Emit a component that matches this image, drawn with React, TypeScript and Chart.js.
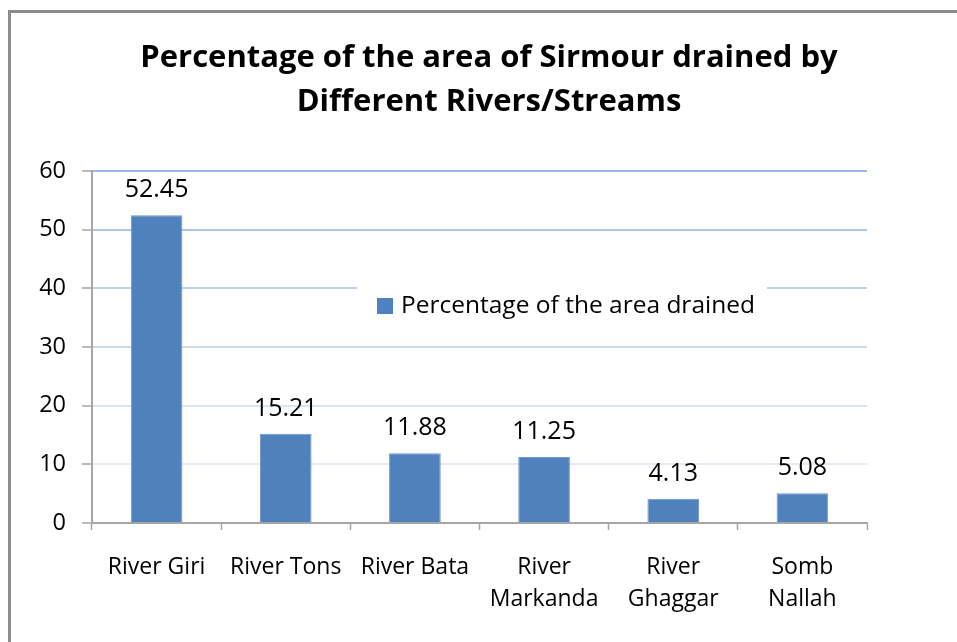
import React, { useEffect, useRef } from "react";
import { Chart, registerables } from "chart.js";

Chart.register(...registerables);

const titleLines = ["Percentage of the area of Sirmour drained by", "Different Rivers/Streams"];
const categories: (string | string[])[] = [
  "River Giri",
  "River Tons",
  "River Bata",
  ["River", "Markanda"],
  ["River", "Ghaggar"],
  ["Somb", "Nallah"],
];
const seriesLabel = "Percentage of the area drained";
const values = [52.45, 15.21, 11.88, 11.25, 4.13, 5.08];
const yMin = 0;
const yMax = 60;
const yStep = 10;

const FONT = "'Open Sans', sans-serif";
const BAR = "#4F81BD";
const AXIS = "#A6A6A6";
const gridColors = ["#A6A6A6", "#E4EAF6", "#D9E3F3", "#CCDAF0", "#BFD1EC", "#ADC5E9", "#9BBAE5"];

const framePlugin = {
  id: "frame",
  beforeDraw(chart: any) {
    const ctx = chart.ctx;
    ctx.save();
    ctx.fillStyle = "#ffffff";
    ctx.fillRect(0, 0, chart.width, chart.height);
    ctx.fillStyle = "#8C8C8C";
    ctx.fillRect(8, 10, 3, chart.height - 10);
    ctx.fillRect(8, 10, chart.width - 8, 3);
    ctx.restore();
  },
};

const titlePlugin = {
  id: "customTitle",
  afterDraw(chart: any) {
    const ctx = chart.ctx;
    ctx.save();
    ctx.fillStyle = "#000";
    ctx.font = `bold 31px ${FONT}`;
    ctx.textAlign = "center";
    ctx.textBaseline = "middle";
    titleLines.forEach((line, i) => ctx.fillText(line, 489, 58 + i * 44));
    ctx.restore();
  },
};

const valueLabelPlugin = {
  id: "valueLabels",
  afterDatasetsDraw(chart: any) {
    const ctx = chart.ctx;
    const meta = chart.getDatasetMeta(0);
    ctx.save();
    ctx.fillStyle = "#000";
    ctx.font = `25px ${FONT}`;
    ctx.textAlign = "center";
    ctx.textBaseline = "alphabetic";
    meta.data.forEach((bar: any, i: number) => {
      ctx.fillText(values[i].toFixed(2), bar.x, bar.y - 18);
    });
    ctx.restore();
  },
};

const legendPlugin = {
  id: "insideLegend",
  afterDraw(chart: any) {
    const ctx = chart.ctx;
    const a = chart.chartArea;
    const x0 = a.left + 265;
    const cy = 306;
    ctx.save();
    ctx.fillStyle = "#fff";
    ctx.fillRect(x0, cy - 20, 410, 40);
    ctx.fillStyle = BAR;
    ctx.fillRect(x0 + 20, cy - 8, 16, 16);
    ctx.fillStyle = "#000";
    ctx.font = `24.5px ${FONT}`;
    ctx.textAlign = "left";
    ctx.textBaseline = "middle";
    ctx.fillText(chart.data.datasets[0].label, x0 + 44, cy);
    ctx.restore();
  },
};

export default function App() {
  const ref = useRef<HTMLCanvasElement | null>(null);
  useEffect(() => {
    if (!ref.current) return;
    const chart = new Chart(ref.current, {
      type: "bar",
      data: {
        labels: categories,
        datasets: [
          {
            label: seriesLabel,
            data: values,
            backgroundColor: BAR,
            borderColor: "#6E98CB",
            borderWidth: 1,
            barPercentage: 0.4,
            categoryPercentage: 1.0,
          },
        ],
      },
      options: {
        responsive: false,
        animation: false,
        devicePixelRatio: 1,
        layout: { padding: { left: 7, right: 90, top: 171, bottom: 0 } },
        plugins: {
          legend: { display: false },
          title: { display: false },
          tooltip: { enabled: false },
        },
        scales: {
          x: {
            offset: true,
            grid: {
              drawOnChartArea: false,
              drawTicks: true,
              tickLength: 7,
              tickColor: AXIS,
              tickWidth: 1.5,
            },
            border: { color: AXIS, width: 2 },
            ticks: {
              color: "#000",
              padding: 21,
              maxRotation: 0,
              autoSkip: false,
              font: { family: FONT, size: 23, lineHeight: 1.4 },
            },
            afterFit(scale: any) {
              scale.height = 119;
            },
          },
          y: {
            min: yMin,
            max: yMax,
            ticks: {
              stepSize: yStep,
              color: "#000",
              padding: 16,
              font: { family: FONT, size: 23.5 },
            },
            grid: {
              color: (c: any) => gridColors[c.index] || gridColors[gridColors.length - 1],
              lineWidth: 2,
              tickLength: 10,
              tickColor: AXIS,
              tickWidth: 1.5,
            },
            border: { color: AXIS, width: 2 },
            afterFit(scale: any) {
              scale.width = 85;
            },
          },
        },
      },
      plugins: [framePlugin, valueLabelPlugin, legendPlugin, titlePlugin],
    });
    return () => chart.destroy();
  }, []);
  return (
    <div style={{ position: "fixed", left: 0, top: 0, width: 957, height: 642, overflow: "hidden", background: "#fff" }}>
      <canvas ref={ref} width={957} height={642} style={{ display: "block", width: 957, height: 642 }} />
    </div>
  );
}
